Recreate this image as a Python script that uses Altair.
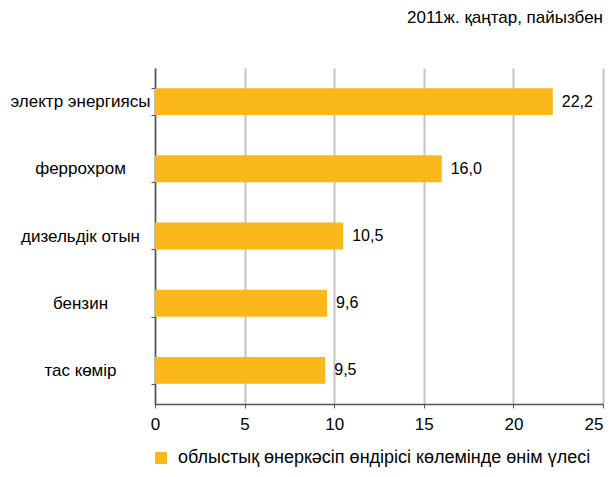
import altair as alt
import pandas as pd

categories = ["электр энергиясы", "феррохром", "дизельдік отын", "бензин", "тас көмір"]
values = [22.2, 16.0, 10.5, 9.6, 9.5]
value_labels = ["22,2", "16,0", "10,5", "9,6", "9,5"]
series_name = "облыстық өнеркәсіп өндірісі көлемінде өнім үлесі"
title_text = "2011ж. қаңтар, пайызбен"

df = pd.DataFrame({"cat": categories, "val": values, "lab": value_labels, "series": series_name})

FONT = "Liberation Sans"

y_enc = alt.Y("cat:N", sort=categories, title=None,
              scale=alt.Scale(paddingInner=0.6, paddingOuter=0.3),
              axis=alt.Axis(labelAlign="center", labelPadding=71, tickSize=4,
                            tickBand="extent", labelFontSize=17, labelFont=FONT,
                            labelColor="black", domainColor="#555555", tickColor="#555555",
                            domainWidth=1.5, grid=False))

bars = alt.Chart(df).mark_bar().encode(
    x=alt.X("val:Q", title=None, scale=alt.Scale(domain=[0, 25], nice=False),
            axis=alt.Axis(values=[0, 5, 10, 15, 20, 25], grid=True, gridColor="#c4c4c4",
                          gridWidth=2, tickSize=4, labelFontSize=17, labelFont=FONT,
                          labelColor="black", labelPadding=8, domainColor="#555555",
                          tickColor="#555555", domainWidth=1.5, labelFlush=False,
                          labelAlign=alt.ExprRef("datum.value == 25 ? 'right' : 'center'"))),
    y=y_enc,
    color=alt.Color("series:N", scale=alt.Scale(range=["#FBB81A"]), title=None,
                    legend=alt.Legend(orient="none", legendX=-3, legendY=381,
                                      symbolType="square", symbolSize=144,
                                      symbolStrokeWidth=0, labelFontSize=18,
                                      labelFont=FONT, labelColor="black",
                                      labelLimit=1000, padding=0, labelOffset=8)),
)

text = alt.Chart(df).mark_text(align="left", baseline="middle", dx=9, fontSize=16,
                               font=FONT, color="black").encode(
    x="val:Q", y=alt.Y("cat:N", sort=categories), text="lab:N")

title = alt.Chart(pd.DataFrame({"t": [title_text]})).mark_text(
    align="right", baseline="middle", fontSize=17, font=FONT, color="black").encode(
    x=alt.value(448), y=alt.value(-50), text="t:N")

chart = alt.layer(bars, text, title).properties(
    width=448, height=336,
    autosize=alt.AutoSizeParams(type="none"),
    padding={"left": 147, "top": 60, "right": 2, "bottom": 65},
).configure_view(stroke=None)

chart.save("out.html", embed_options={"renderer": "svg", "actions": False})
